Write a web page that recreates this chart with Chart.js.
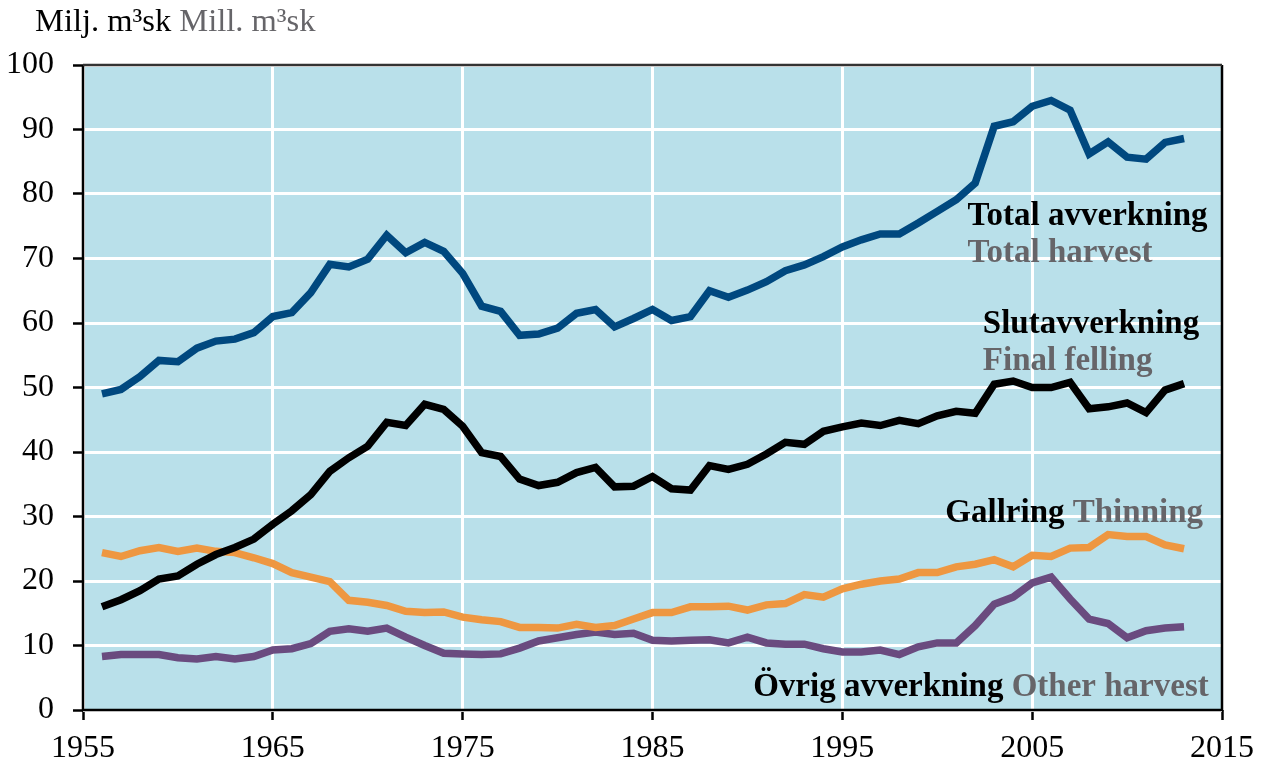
<!DOCTYPE html>
<html>
<head>
<meta charset="utf-8">
<script src="https://cdn.jsdelivr.net/npm/chart.js@4"></script>
<style>
  html, body { margin: 0; padding: 0; background: #fff; }
  #wrap { width: 1265px; height: 764px; }
</style>
</head>
<body>
<div id="wrap"><canvas id="harvest-chart" width="1265" height="764"></canvas></div>
<script>
const years = [];
for (let y = 1956; y <= 2013; y++) years.push(y);

const totalHarvest = [
    49.0, 49.7, 51.7, 54.2, 54.0, 56.1, 57.2, 57.5, 58.5, 61.0,
    61.6, 64.7, 69.1, 68.7, 69.9, 73.6, 70.9, 72.5, 71.1, 67.7,
    62.6, 61.8, 58.1, 58.3, 59.2, 61.5, 62.1, 59.4, 60.7, 62.1,
    60.4, 61.0, 65.0, 64.0, 65.1, 66.4, 68.1, 69.0, 70.3, 71.8,
    72.9, 73.8, 73.8, 75.5, 77.3, 79.1, 81.7, 90.5, 91.2, 93.6,
    94.5, 93.0, 86.2, 88.1, 85.7, 85.4, 88.0, 88.6
];

const finalFelling = [
    16.0, 17.1, 18.5, 20.3, 20.8, 22.6, 24.1, 25.2, 26.5, 28.8,
    30.9, 33.4, 37.0, 39.1, 40.9, 44.6, 44.1, 47.4, 46.6, 44.0,
    39.9, 39.3, 35.8, 34.8, 35.3, 36.8, 37.6, 34.6, 34.7, 36.2,
    34.3, 34.1, 37.9, 37.3, 38.1, 39.7, 41.5, 41.2, 43.2, 43.9,
    44.5, 44.1, 44.9, 44.4, 45.6, 46.3, 46.0, 50.5, 51.0, 50.0,
    50.0, 50.8, 46.7, 47.0, 47.6, 46.1, 49.6, 50.6
];

const thinning = [
    24.4, 23.8, 24.7, 25.2, 24.6, 25.1, 24.6, 24.4, 23.6, 22.7,
    21.3, 20.6, 19.9, 17.0, 16.7, 16.2, 15.3, 15.1, 15.2, 14.4,
    14.0, 13.7, 12.8, 12.8, 12.7, 13.3, 12.8, 13.1, 14.1, 15.1,
    15.1, 16.0, 16.0, 16.1, 15.5, 16.3, 16.5, 17.9, 17.5, 18.8,
    19.5, 20.0, 20.3, 21.3, 21.3, 22.2, 22.6, 23.3, 22.2, 24.0,
    23.8, 25.1, 25.2, 27.2, 26.9, 26.9, 25.6, 25.0
];

const otherHarvest = [
    8.3, 8.6, 8.6, 8.6, 8.1, 7.9, 8.3, 7.9, 8.3, 9.3,
    9.5, 10.3, 12.2, 12.6, 12.2, 12.7, 11.3, 10.0, 8.8, 8.7,
    8.6, 8.7, 9.6, 10.7, 11.2, 11.7, 12.1, 11.7, 11.9, 10.8,
    10.7, 10.8, 10.9, 10.4, 11.3, 10.4, 10.2, 10.2, 9.5, 9.0,
    9.0, 9.3, 8.6, 9.8, 10.4, 10.4, 13.1, 16.4, 17.5, 19.7,
    20.6, 17.2, 14.1, 13.4, 11.2, 12.3, 12.7, 12.9
];

const xTicks = [1955, 1965, 1975, 1985, 1995, 2005, 2015];
const yTicks = [0, 10, 20, 30, 40, 50, 60, 70, 80, 90, 100];

const FONT = "'Liberation Serif', 'Times New Roman', serif";
const GREY = '#666569';

function points(values) {
    return years.map((yr, i) => ({ x: yr, y: values[i] }));
}

function line(label, values, color) {
    return {
        label: label,
        data: points(values),
        borderColor: color,
        borderWidth: 7.5,
        pointRadius: 0,
        tension: 0,
        fill: false
    };
}

// line captions, anchored in data units (stacked = swedish above english)
const seriesLabels = [
    { sv: 'Total avverkning', en: 'Total harvest', x: 2001.6, y: 76.5, stacked: true },
    { sv: 'Slutavverkning', en: 'Final felling', x: 2002.4, y: 59.8, stacked: true },
    { sv: 'Gallring', en: 'Thinning', x: 2014.0, y: 30.5, stacked: false },
    { sv: 'Övrig avverkning', en: 'Other harvest', x: 2014.3, y: 3.5, stacked: false }
];

const plotBackground = {
    id: 'plotBackground',
    beforeDraw(chart) {
        const { ctx, chartArea: a } = chart;
        ctx.save();
        ctx.fillStyle = '#B9E0EA';
        ctx.fillRect(a.left, a.top, a.right - a.left, a.bottom - a.top);
        ctx.restore();
    }
};

const frameAndText = {
    id: 'frameAndText',
    afterDraw(chart) {
        const { ctx, chartArea: a, scales } = chart;
        ctx.save();
        // frame
        ctx.lineWidth = 2.5;
        ctx.strokeStyle = '#000';
        ctx.beginPath();
        ctx.moveTo(a.left, a.top);
        ctx.lineTo(a.left, a.bottom);
        ctx.lineTo(a.right, a.bottom);
        ctx.lineTo(a.right, a.top);
        ctx.stroke();
        ctx.strokeStyle = '#333';
        ctx.beginPath();
        ctx.moveTo(a.left, a.top);
        ctx.lineTo(a.right, a.top);
        ctx.stroke();

        // unit
        ctx.textBaseline = 'middle';
        ctx.textAlign = 'left';
        ctx.font = '32.5px ' + FONT;
        ctx.fillStyle = '#000';
        const unitSv = 'Milj. m³sk ';
        ctx.fillText(unitSv, 35, 22);
        ctx.fillStyle = GREY;
        ctx.fillText('Mill. m³sk', 35 + ctx.measureText(unitSv).width, 22);

        // series captions
        ctx.font = 'bold 33px ' + FONT;
        ctx.textAlign = 'left';
        seriesLabels.forEach(l => {
            const px = scales.x.getPixelForValue(l.x);
            const py = scales.y.getPixelForValue(l.y);
            if (l.stacked) {
                ctx.fillStyle = '#000';
                ctx.fillText(l.sv, px, py);
                ctx.fillStyle = GREY;
                ctx.fillText(l.en, px, py + 37);
            } else {
                const sv = l.sv + ' ';
                const svW = ctx.measureText(sv).width;
                const w = svW + ctx.measureText(l.en).width;
                ctx.fillStyle = '#000';
                ctx.fillText(sv, px - w, py);
                ctx.fillStyle = GREY;
                ctx.fillText(l.en, px - w + svW, py);
            }
        });
        ctx.restore();
    }
};

new Chart(document.getElementById('harvest-chart'), {
    type: 'line',
    data: {
        datasets: [
            line('Total avverkning', totalHarvest, '#00487F'),
            line('Slutavverkning', finalFelling, '#000000'),
            line('Gallring', thinning, '#EE9741'),
            line('Övrig avverkning', otherHarvest, '#6A4B7F')
        ]
    },
    options: {
        responsive: false,
        animation: false,
        layout: { padding: { top: 65, right: 43, left: 0, bottom: 0 } },
        plugins: {
            legend: { display: false },
            tooltip: { enabled: false }
        },
        scales: {
            x: {
                type: 'linear',
                min: 1955,
                max: 2015,
                afterBuildTicks(axis) { axis.ticks = xTicks.map(v => ({ value: v })); },
                afterFit(axis) { axis.height = 54; },
                grid: { color: '#fff', lineWidth: 3, tickColor: '#000', tickLength: 10, tickWidth: 2.5 },
                border: { display: false },
                ticks: {
                    color: '#000',
                    font: { family: FONT, size: 32 },
                    padding: 9,
                    maxRotation: 0,
                    callback: v => String(v)
                }
            },
            y: {
                min: 0,
                max: 100,
                afterBuildTicks(axis) { axis.ticks = yTicks.map(v => ({ value: v })); },
                afterFit(axis) { axis.width = 83; },
                grid: { color: '#fff', lineWidth: 3, tickColor: '#000', tickLength: 10, tickWidth: 2.5 },
                border: { display: false },
                ticks: {
                    color: '#000',
                    font: { family: FONT, size: 32 },
                    padding: 19
                }
            }
        }
    },
    plugins: [plotBackground, frameAndText]
});
</script>
</body>
</html>
